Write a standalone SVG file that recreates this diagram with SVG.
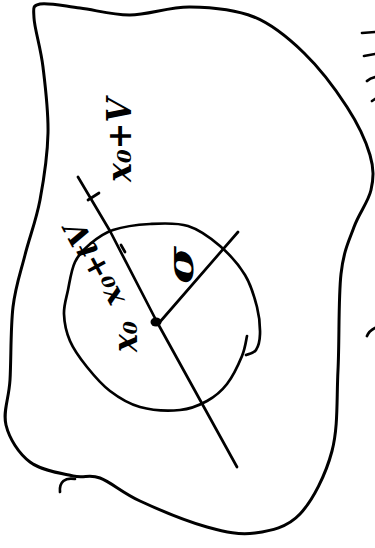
<svg xmlns="http://www.w3.org/2000/svg" width="375" height="548" viewBox="0 0 375 548">
<style>
.ink{fill:none;stroke:#000;stroke-width:3;stroke-linecap:round;stroke-linejoin:round}
.thin{fill:none;stroke:#000;stroke-width:2.7;stroke-linecap:round;stroke-linejoin:round}
.lbl{font-family:"DejaVu Serif","Liberation Serif",serif;font-style:italic;font-weight:bold;fill:#000}
</style>
<rect width="375" height="548" fill="#fff"/>
<g id="region">
<path class="ink" d="M40,4 C47.7,2.3 65,6.2 80,8 C95,9.8 111.7,15.2 130,15 C148.3,14.8 169.3,6.7 190,7 C210.7,7.3 235,9.3 254,17 C273,24.7 288.5,38 304,53 C319.5,68 336,90 347,107 C358,124 366,141.2 370,155 C374,168.8 373.7,178 371,190 C368.3,202 359,213 354,227 C349,241 343.7,250.2 341,274 C338.3,297.8 339.5,340.5 338,370 C336.5,399.5 338.3,427 332,451 C325.7,475 312.8,500.3 300,514 C287.2,527.7 270.5,530.8 255,533 C239.5,535.2 226.2,532.3 207,527 C187.8,521.7 157.8,509.2 140,501 C122.2,492.8 111.2,482.2 100,478 C88.8,473.8 84.7,478.7 73,476 C61.3,473.3 41.2,470.5 30,462 C18.8,453.5 9.3,438.7 6,425 C2.7,411.3 8.8,399.7 10,380 C11.2,360.3 10.5,327.8 13,307 C15.5,286.2 20.5,272.8 25,255 C29.5,237.2 36.2,220.3 40,200 C43.8,179.7 47.5,155.2 48,133 C48.5,110.8 45.3,86.2 43,67 C40.7,47.8 34.5,28.5 34,18 C33.5,7.5 32.3,5.7 40,4 Z"/>
<path class="thin" d="M75,479 C65,477 59,482 60,492"/>
</g>
<g id="ball">
<path class="thin" d="M247,336 C246.2,339.3 245.3,348 242,356 C238.7,364 232.8,376.5 227,384 C221.2,391.5 214.8,396.7 207,401 C199.2,405.3 191.2,409 180,410 C168.8,411 151.7,410.2 140,407 C128.3,403.8 118.8,397.7 110,391 C101.2,384.3 93.7,375.3 87,367 C80.3,358.7 73.8,349.8 70,341 C66.2,332.2 64.3,322.5 64,314 C63.7,305.5 66.2,298.7 68,290 C69.8,281.3 71.3,269.7 75,262 C78.7,254.3 83.7,249.3 90,244 C96.3,238.7 103,233.3 113,230 C123,226.7 137.5,224.7 150,224 C162.5,223.3 176.3,222.3 188,226 C199.7,229.7 210.5,237.8 220,246 C229.5,254.2 238.8,264.8 245,275 C251.2,285.2 254.5,297.2 257,307 C259.5,316.8 260.2,326.8 260,334 C259.8,341.2 258.3,346.5 256,350 C253.7,353.5 247.7,354.2 246,355"/>
</g>
<g id="connectors">
<path class="thin" d="M78,177 L110,231 L157,322 L237,467"/>
<path class="thin" d="M159,323 L238,232"/>
<path class="thin" d="M88,200 L99,193"/>
<path class="thin" d="M121,245 L125,252"/>
</g>
<g id="center">
<ellipse cx="156" cy="322" rx="5.5" ry="4.5" fill="#000"/>
</g>
<g id="labels">
<text class="lbl" font-size="34" textLength="84" lengthAdjust="spacingAndGlyphs" transform="translate(131,182) rotate(-90)">x₀+V</text>
<text class="lbl" font-size="30" textLength="92" lengthAdjust="spacingAndGlyphs" transform="translate(125,300) rotate(-118)">x₀+tV</text>
<text class="lbl" font-size="34" textLength="31" lengthAdjust="spacingAndGlyphs" transform="translate(137,352) rotate(-90)">x₀</text>
<text class="lbl" font-size="38" textLength="38" lengthAdjust="spacingAndGlyphs" transform="translate(193,284) rotate(-90)">σ</text>
</g>
<g id="edge-marks">
<path class="thin" d="M362,33 L375,32 M364,56 L375,54 M367,81 Q370,78 375,77 M372,101 L375,99 M367,336 Q369,331 375,328"/>
</g>
</svg>
